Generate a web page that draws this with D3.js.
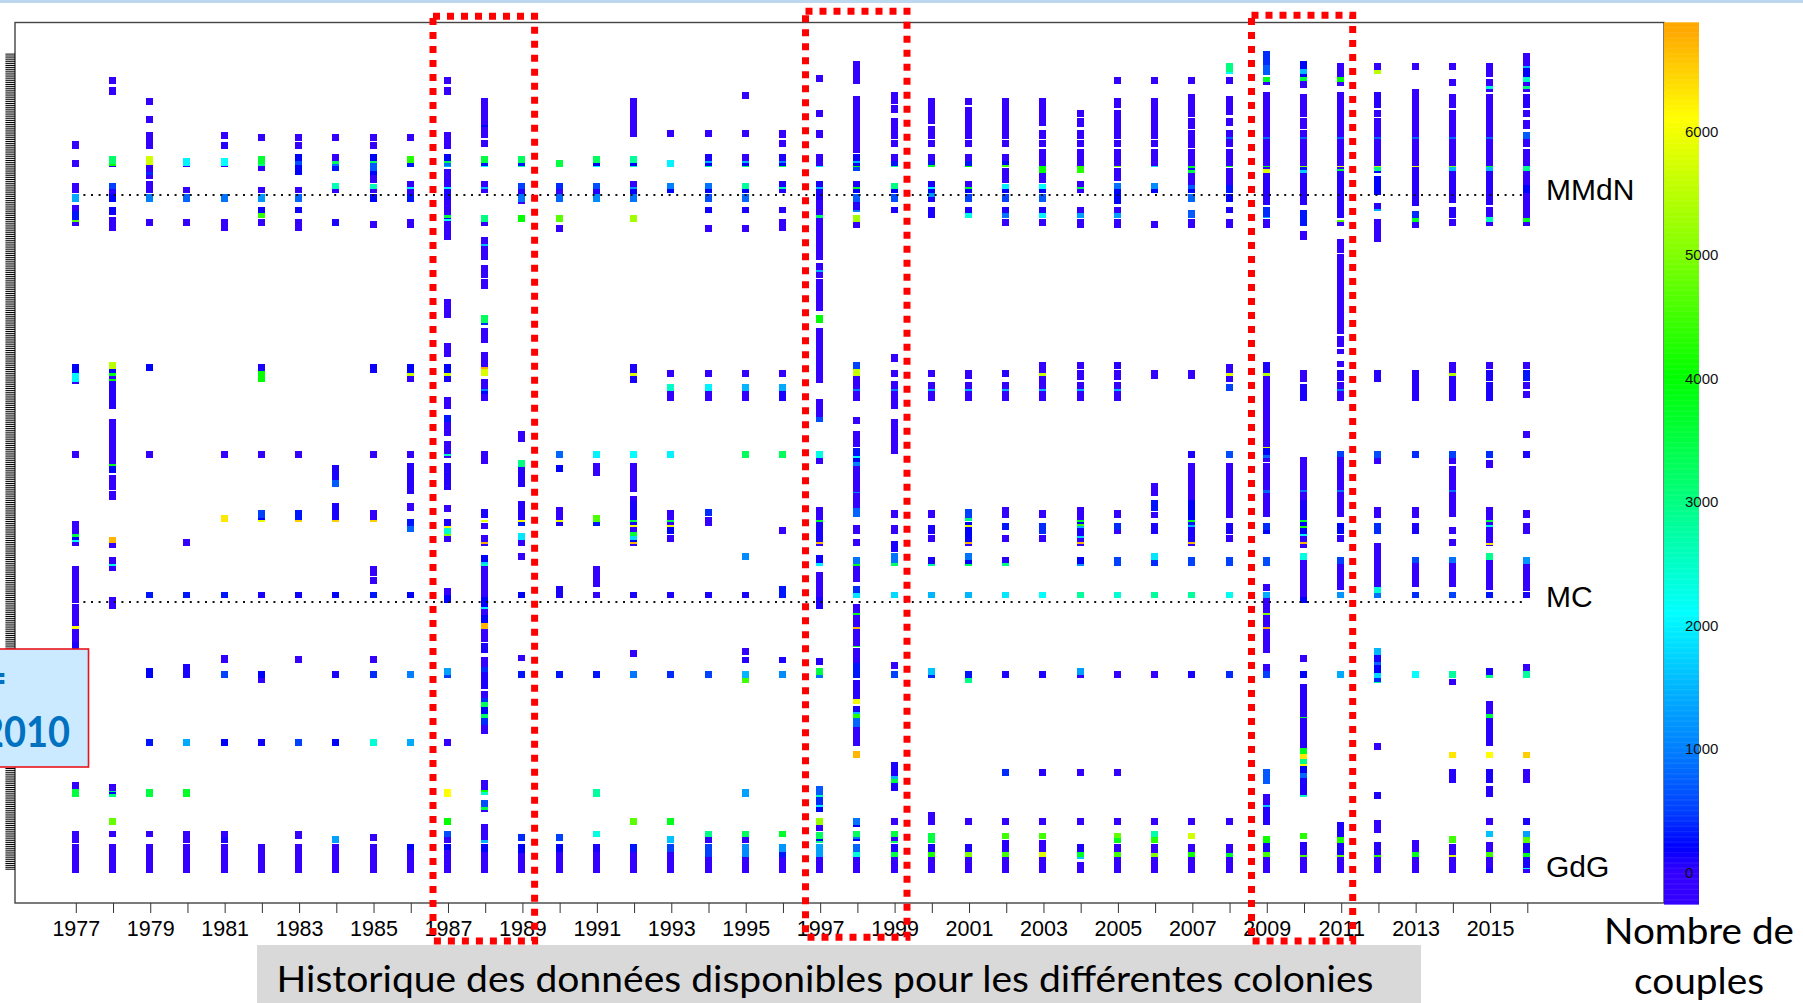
<!DOCTYPE html>
<html>
<head>
<meta charset="utf-8">
<style>
	html, body { margin: 0; padding: 0; background: #fff; overflow: hidden; }
	svg { display: block; }
	text { font-family: "Liberation Sans", Arial, sans-serif; }
	.calibri { font-family: Lato, "Noto Sans", sans-serif; }
</style>
<script src="https://cdn.jsdelivr.net/npm/d3@7"></script>
</head>
<body>
<svg id="chart" width="1803" height="1003"></svg>
<script>
"use strict";

// each run is [first colony row, last colony row, number of couples]
var runs1977 = [[70.5,74.5,0],[80,83.5,0],[91.5,96.5,0],[97,101,1400],[102.5,105.5,0],[105.5,110,300],[110,111,4700],[111,113,0],[182,186.5,200],[186.5,191,2050],[191,192,0],[225.5,229,0],[260.5,267,0],[267,268.5,3500],[268.5,270,200],[270,271,2100],[271,273,0],[283,301.5,0],[302,313,0],[313,314.5,6100],[314.5,321,0],[321,326,100],[391,394.5,0],[394.7,398.7,3500],[415.5,421.5,0],[422,436.7,0]];
var runs1978 = [[38.5,42,0],[43.5,47.5,0],[78,82,3200],[82,83,4000],[83,83.7,0],[91.5,94.5,500],[94.5,97,50],[97,101,200],[103.5,107.5,150],[108.5,115.5,0],[181,184.5,5500],[184.5,186.5,200],[186.5,188,3800],[188,189.5,0],[189.5,190.5,4000],[190.5,204.5,50],[209.5,232,0],[232,233,3800],[233,236.5,200],[237.5,245,0],[245.5,250,0],[268.7,271.7,6700],[271.7,274,0],[278.7,282,0],[282,283,2300],[283,285.3,0],[298.7,304.5,0],[392,395.3,0],[395.3,396.2,3000],[396.2,397,200],[397,398.7,3000],[409,412.3,4800],[415.3,418.7,0],[422,436.7,0]];
var runs1979 = [[49,52.5,0],[58,61.3,0],[66,74.7,0],[78,82.7,5700],[82.7,85.8,0],[85.8,87.5,400],[87.5,89.5,0],[90.5,96.7,0],[97,100.8,1000],[109.5,113,0],[182,185.3,200],[225.7,229,0],[295.8,299.2,300],[334,338.8,200],[369.5,373,300],[394.7,398.3,3500],[415.3,418.7,0],[422,436.7,0]];
var runs1980 = [[79,82.8,2000],[82.8,83.7,0],[93.3,96.7,0],[97,100.8,800],[109.5,113,0],[269.5,272.8,0],[295.8,299.2,300],[332.2,338.8,100],[369.5,373,1400],[394.7,398.3,3700],[415.3,421.3,0],[422,436.7,0]];
var runs1981 = [[66,69.3,0],[71,74.7,50],[79,82.8,2100],[82.8,83.7,0],[97,100.8,900],[109.5,115.7,0],[225.7,229,0],[257.5,260.8,6300],[295.8,299.2,300],[327.3,331.7,0],[335.5,338.8,500],[369.5,373,200],[415.3,418.7,0],[418.7,421.3,100],[422,436.7,0]];
var runs1982 = [[67,70.3,0],[78,82,3600],[82,83,3000],[83,85.7,0],[93.3,96.7,0],[97,100.8,1200],[103.3,106.7,150],[106.7,109.2,4400],[109.5,113,0],[182,185.7,100],[185.7,190.8,4000],[225.7,229,0],[255,259.2,500],[259.2,260,200],[260,260.8,5900],[295.8,299.2,100],[335.5,338.8,200],[338.8,341.7,0],[369.5,373,150],[422,436.7,0]];
var runs1983 = [[67,70.3,0],[71,74.7,0],[77,80.3,200],[80.3,82.5,600],[82.5,87.5,200],[93.3,96.7,0],[97,100.8,800],[103.3,106.7,150],[109.5,115.7,0],[225.7,229,0],[255,260,300],[260,260.8,6500],[295.8,299.2,150],[328.2,331.7,0],[369.5,373,500],[415.3,419.7,0],[422,436.7,0]];
var runs1984 = [[67,70.3,0],[77,80.3,0],[80.3,82,3300],[82,82.8,900],[82.8,85.7,300],[91.3,94.7,2600],[94.7,96.7,0],[109.5,113,100],[232.7,240,100],[240,243.3,700],[251.3,260,100],[260,260.8,6500],[295.8,299.2,200],[335.5,338.8,100],[369.5,373,200],[418,421.7,1300],[422,436.7,0]];
var runs1985 = [[67,70.3,0],[71,74.7,0],[77,80.3,200],[80.3,81.3,3300],[81.3,85.7,700],[85.7,87.5,200],[87.5,91.7,0],[92,94.7,2600],[94.7,96.7,0],[97,100.8,200],[110.5,114,0],[182,186.3,150],[225.7,229,0],[255,260,0],[260,260.8,6500],[283,288,0],[288.7,292,0],[295.8,299.2,300],[328.2,331.7,0],[335.5,338.8,400],[369.5,373,2400],[417.2,420.5,0],[422,436.7,0]];
var runs1986 = [[67,70.3,0],[78,81.3,4300],[81.3,83.7,300],[90.5,93.7,0],[93.7,94.7,2000],[94.7,97,0],[97,100.8,300],[109.5,114,0],[182,186.7,200],[186.7,187.8,5600],[187.8,190.8,0],[225.7,229,0],[231.7,247,50],[251.3,255.7,0],[259.5,263,300],[263,265.8,800],[295.8,299.2,200],[335.5,338.8,1000],[369.5,373,1400],[422,425,200],[425,436.7,0]];
var runs1987 = [[38.7,42,0],[43.7,47.3,0],[66,74.7,0],[77,80.3,200],[80.3,81.3,3500],[81.3,82.8,900],[82.8,83.7,1500],[84.5,93.7,0],[93.7,94.7,2000],[94.7,100,100],[100,107.5,0],[107.5,108.8,3500],[108.8,109.7,200],[109.7,110.7,2100],[110.7,120,0],[149.7,159.2,0],[171.3,178.3,0],[182,186.3,200],[186.3,187.8,5700],[187.8,190.8,100],[198.3,204.7,0],[207.7,210.8,300],[210.8,218,0],[220.3,227,0],[227,228,2600],[228,229,0],[231.7,245,50],[252.3,255.8,0],[259.5,263,100],[263,263.8,6100],[263.8,267.2,2500],[267.2,268,5000],[268,271.2,0],[294,297.5,0],[297.5,301.3,200],[334,337.5,1300],[337.5,338.8,500],[369.5,373,0],[394.7,398.3,6100],[409.2,412.3,4000],[415.3,418.7,600],[418.7,421.3,0],[422,425,200],[425,436.7,0]];
var runs1988 = [[48.8,62.5,0],[62.5,63.3,200],[63.3,69.2,0],[70,73.7,0],[78,81.3,3500],[81.3,82.8,300],[82.8,83.7,2100],[90.5,93.7,0],[93.7,94.7,1500],[94.7,96.7,0],[107.5,111,3000],[111,113,0],[118.5,122,0],[122,123,1500],[123,130,0],[132.5,138.8,0],[139.7,144.3,0],[157.7,161.3,3300],[161.3,162.3,400],[164,171.7,0],[176,183.3,0],[183.3,184.3,6800],[184.3,187.8,5800],[189.5,194.7,0],[194.7,195.5,1000],[195.5,197.2,200],[197.2,200.7,0],[225.7,232.2,0],[254.3,259.2,100],[260,260.8,5900],[261.3,264.7,0],[267.5,270.8,0],[270.8,272,6800],[272,272.8,0],[277.7,281.2,200],[281.2,282,1700],[282,283,2500],[283,298.3,0],[298.3,303.3,200],[303.3,304.5,2000],[304.5,307.5,0],[307.5,311.7,200],[311.7,314.5,6700],[314.5,320.8,0],[321.3,326.3,100],[328.3,333.3,0],[333.3,335.8,400],[335.8,344.7,100],[345.5,349.2,0],[349.2,350.8,400],[350.8,353.3,3300],[353.3,357,200],[357,358.8,3200],[358.8,362.5,400],[362.5,367,0],[390,395,0],[395,396.2,4000],[396.2,397.3,2500],[400,403.3,600],[403.3,405,3500],[405,406.2,0],[412,420,0],[420,421.3,1500],[422,425.8,200],[425.8,436.7,0]];
var runs1989 = [[78,81.3,3300],[81.3,82.8,300],[82.8,83.7,2700],[91.3,94.7,500],[94.7,97,50],[97,100.8,900],[100.8,101.8,0],[107.5,111,4000],[215.5,220.8,0],[230,233.3,3000],[233.3,243.3,50],[250.5,260,50],[260,260.8,6000],[260.8,263,300],[266.7,270,1900],[270,272.8,0],[276.7,280,0],[295.8,299.2,200],[327.3,330.7,0],[335.5,338.8,300],[417.2,420.5,400],[422,426.7,200],[426.7,436.7,0]];
var runs1990 = [[79.8,83.7,3500],[91.3,94.7,400],[94.7,97,0],[97,100.8,800],[107.5,111,4700],[112.3,115.8,0],[225.7,229,800],[232.7,236,200],[253.3,260,0],[260,260.8,5900],[260.8,262.8,100],[293,299.2,100],[335.5,338.8,300],[417.2,420.5,500],[422,425.8,200],[425.8,436.7,0]];
var runs1991 = [[78,81.3,3300],[81.3,82.8,200],[82.8,83.7,2000],[91.3,94.7,600],[94.7,97,50],[97,100.8,1100],[225.7,229,2000],[231.7,238,0],[257.5,260.8,4600],[260.8,262.8,300],[283,293.3,0],[295.8,299.2,0],[335.5,338.8,300],[394.7,398.3,2800],[415.3,418.7,2300],[422,426,100],[426,436.7,0]];
var runs1992 = [[48.8,68.3,0],[78,81.3,2800],[81.3,82.8,200],[82.8,83.7,2400],[90.5,93.7,0],[93.7,94.7,1200],[94.7,97,200],[97,100.8,900],[107.5,111,5300],[182,186.3,100],[186.3,187.8,5800],[187.8,191.7,100],[225.7,229,2100],[231.7,245.8,0],[248,250,0],[250,260,100],[260,260.8,3500],[260.8,262.5,100],[262.5,263.5,6100],[263.5,265.8,0],[265.8,268,3600],[268,270,1800],[270,270.8,200],[270.8,272.2,6700],[272.2,272.8,0],[295.8,299.2,100],[325,328.7,0],[335.5,338.8,900],[409.2,412.3,4700],[422,426,300],[426,436.7,0]];
var runs1993 = [[65,68.3,0],[80,83.7,2000],[91.3,94.7,1000],[94.7,96.7,200],[185,188.7,0],[192,195.5,2500],[195.5,200.7,0],[225.7,229,2000],[255,260,0],[260,260.8,3500],[260.8,262.5,0],[262.5,263.5,6000],[263.5,267.2,200],[267.5,270.8,0],[295.8,299.2,100],[335.5,338.8,400],[409.2,412.3,3800],[418,421.7,1600],[422,425.8,500],[425.8,436.7,0]];
var runs1994 = [[65,68.3,0],[77,80.3,100],[80.3,81.3,1500],[81.3,82.8,200],[82.8,83.7,2800],[91.3,94.7,900],[94.7,96.7,200],[97,100.8,600],[103.3,106.7,150],[112.3,115.8,0],[185,188.7,0],[192,195.5,2000],[195.5,200.7,0],[254.3,257.8,400],[258.7,262.8,0],[295.8,299.2,100],[335.5,338.8,500],[415.3,418.7,3000],[418.7,421.7,0],[422,428.7,500],[428.7,436.7,0]];
var runs1995 = [[46,49.5,0],[65,68.3,0],[77,80.3,0],[80.3,81.3,1500],[81.3,82.8,200],[82.8,83.7,3000],[91.3,94.7,2800],[94.7,96.7,200],[97,100.8,800],[103.3,106.7,100],[112.3,115.8,0],[185,188.7,0],[192,195.5,1500],[195.5,200.7,0],[225.7,229,3300],[276.7,280,1100],[295.8,299.2,100],[324.2,327.7,0],[328.3,331.7,50],[335.5,338.8,1500],[338.8,341.7,4500],[394.7,398.3,1300],[415.3,418.7,3300],[418.7,421.7,0],[422,428.3,1100],[428.3,436.7,0]];
var runs1996 = [[65,69.2,0],[70,73.7,0],[77,80.3,100],[80.3,81.3,1000],[81.3,82.8,200],[82.8,83.7,3300],[90.5,93.7,100],[93.7,94.7,2700],[94.7,96.7,50],[103.3,106.7,50],[109.5,115.7,0],[185,188.7,0],[192,195.5,1400],[195.5,200.7,100],[225.7,229,3300],[263.3,267.2,0],[293,299.2,300],[328.3,331.7,100],[335.5,338.8,1100],[415.3,418.7,3700],[422,425.8,1200],[425.8,428.7,300],[428.7,436.7,0]];
var runs1997 = [[37.7,41.2,0],[55,58.5,0],[65,69.2,0],[77,82.8,0],[82.8,83.7,2000],[90.5,93.7,100],[93.7,94.7,1500],[94.7,100,100],[100,107.5,0],[107.5,108.8,3200],[108.8,130,0],[131.7,135,0],[135,136,1500],[136,138.8,0],[139.7,155.3,0],[157.7,161.3,4000],[164,191.7,0],[199.3,208.7,0],[208.7,210.8,600],[225.7,229,2300],[229,232.2,0],[253.3,260,0],[260,260.8,3700],[260.8,270.8,100],[270.8,272,6700],[272,272.8,0],[277.7,281.7,150],[281.7,283,2000],[285.8,298.3,0],[298.3,304.5,100],[329.2,332.5,50],[334,337.5,3500],[337.5,338.8,900],[392.8,397.5,700],[397.5,398.3,2600],[398.3,402.5,400],[402.5,403.3,2000],[403.3,406.2,200],[409.2,412.3,5200],[412.3,415.3,0],[415.8,419.3,3300],[419.3,420.3,200],[420.3,421.3,3000],[422,428.7,1300],[428.7,436.7,0]];
var runs1998 = [[30.7,42,0],[47.8,76.7,0],[77,80.3,150],[80.3,81.3,1500],[81.3,82.8,200],[82.8,83.7,4000],[83.7,85.7,500],[90.5,93.7,100],[93.7,94.7,3700],[94.7,96.7,200],[97,100.8,700],[100.8,105,50],[105,106,1000],[107.5,111,5300],[111,114,0],[181,184.3,500],[184.3,187.8,5600],[187.8,194.7,0],[194.7,195.5,1000],[195.5,200.7,0],[208.3,212,0],[215.5,223.3,0],[224.2,228,300],[228,229,2100],[229,230.8,200],[230.8,233,1000],[233,245.8,0],[245.8,246.7,1000],[246.7,254.2,0],[254.2,258.7,800],[262.5,267.2,0],[269.5,272.8,0],[278.7,282,900],[282,283,3800],[283,290.8,0],[293,296.3,400],[296.3,299.2,1900],[302,306.7,0],[306.7,307.5,3800],[307.5,313.3,0],[313.3,314.5,6700],[314.5,322.8,0],[322.8,323.7,3800],[324.2,331.7,0],[331.7,338.8,300],[340.2,349.3,50],[349.3,352.2,6000],[352.8,355.8,100],[355.8,357,1500],[357,359.2,4300],[359.2,363.3,800],[363.3,373,0],[375.5,379,6700],[409.2,412.5,900],[412.5,413.3,200],[415.3,418.7,3300],[418.7,419.7,900],[419.7,420.5,200],[422,425.8,800],[425.8,428.7,2400],[428.7,436.7,0]];
var runs1999 = [[46,52,0],[52.7,56.7,0],[58.8,69.3,0],[70,73.7,0],[77,80.3,0],[80.3,82.8,300],[82.8,83.7,2900],[91.3,94.7,3000],[94.7,96.7,200],[97,100.8,600],[103.3,106.7,100],[177.2,180.8,0],[185,188.7,0],[190.3,194.7,0],[194.7,195.5,1000],[195.5,204.7,0],[209.3,227,0],[255,259.2,0],[262.5,267.2,0],[270.7,276.2,100],[276.7,281.7,900],[281.7,283,3200],[295.8,299.2,1800],[331.2,334.5,0],[335.5,338.8,500],[380.8,388,100],[388,389.7,1500],[389.7,391.3,3500],[391.3,395.3,100],[409.2,412.3,0],[415.3,418.7,3500],[418.7,420.5,0],[420.5,421.7,3300],[422,425.8,100],[425.8,428.7,3500],[428.7,436.7,0]];
var runs2000 = [[48.8,62.2,0],[63.2,69.3,0],[70,73.7,0],[77,80.3,0],[80.3,82.5,300],[82.5,83.7,3700],[90.5,93.7,100],[93.7,94.7,2000],[94.7,96.7,200],[96.7,98.3,1200],[98.3,100.8,100],[103.3,109,100],[185,188.7,0],[191.2,194.7,0],[194.7,195.5,1500],[195.5,200.7,0],[255,258.8,0],[262.5,267.2,100],[267.5,270.8,0],[278.7,282,100],[282,283,2800],[295.8,299.2,1500],[334,337.5,1600],[337.5,338.8,400],[406.2,412.3,0],[416.3,421.3,3500],[422,425.8,100],[425.8,428.7,4200],[428.7,436.7,0]];
var runs2001 = [[48.8,52.3,0],[53.7,69.3,0],[70,73.7,0],[77,80.3,0],[80.3,82.8,300],[82.8,83.7,4000],[90.5,93.7,0],[93.7,94.7,3700],[94.7,96.7,200],[97,100.8,500],[103.3,106.7,100],[106.7,109,2300],[185,189.7,0],[191.2,194.7,0],[194.7,195.5,1500],[195.5,200.7,0],[254.3,258.8,500],[258.8,260.5,3000],[260.8,262.5,200],[262.5,263.5,6000],[263.5,270.8,200],[270.8,272,6700],[272,272.8,0],[276.7,280,900],[280,282,200],[282,283,3300],[295.8,299.2,1500],[335.5,338.8,300],[338.8,341.7,3000],[409.2,412.3,0],[422,425.8,100],[425.8,428.7,5000],[428.7,436.7,0]];
var runs2002 = [[48.8,69.3,0],[70,73.7,0],[77,80.3,0],[80.3,82.5,200],[82.5,83.7,4500],[84.2,91.7,0],[92,94.7,2000],[94.7,96.7,200],[97,100.8,500],[103.3,106.7,100],[106.7,109,900],[109.5,113,0],[185,188.7,50],[191.2,194.7,0],[194.7,195.5,1500],[195.5,200.7,0],[253.3,258.8,0],[261.3,265,300],[267.5,270.8,0],[278.7,281.7,50],[281.7,283,3000],[295.8,299.2,1900],[335.5,338.8,100],[384.7,388,400],[409.2,412.3,0],[416.3,419.7,4500],[420,425.8,50],[425.8,428.7,4500],[428.7,436.7,0]];
var runs2003 = [[48.8,63.2,0],[65,69.3,0],[70,73.7,0],[74.3,82.8,0],[82.8,86.7,4000],[86.7,91.7,0],[92,94.7,2100],[94.7,96.7,200],[97,100.8,700],[103.3,106.7,100],[106.7,109,2000],[109.5,113,0],[181,186.3,0],[186.3,187.8,5600],[187.8,194.7,0],[194.7,195.5,1500],[195.5,200.7,0],[255,258.8,0],[261.3,267.2,400],[267.5,270.8,0],[295.8,299.2,2100],[335.5,338.8,100],[384.7,388,50],[409.2,412.3,0],[416.3,419.7,4500],[420,425.8,0],[425.8,428.7,5800],[428.7,436.7,0]];
var runs2004 = [[55,58.5,0],[59.2,63.3,0],[65,69.3,0],[70,73.7,0],[74.3,82.8,0],[82.8,86.7,4300],[90.5,93.7,0],[93.7,94.7,3500],[94.7,96.7,0],[103.3,106.7,0],[106.7,109,1300],[109.5,114,0],[181,184.3,0],[185,190,0],[191.2,194.7,0],[194.7,195.5,1500],[195.5,200.7,0],[253.3,260,0],[260,261,3800],[261,262,200],[262,263,4500],[263,264,1500],[264,268,100],[268,269,1800],[269,270.8,0],[270.8,272,6700],[272,272.8,0],[278.7,282,200],[282,283,1200],[295.8,299.2,2800],[334,337.5,1300],[337.5,338.8,0],[384.7,388,0],[409.2,412.3,0],[422,425.8,100],[425.8,428.7,3700],[428.7,429.7,1700],[431,436.7,0]];
var runs2005 = [[38.7,42,0],[48.8,54.2,0],[55,69.3,0],[70,73.7,0],[74.3,82.8,0],[82.8,83.7,5000],[84.2,90.5,0],[91.3,94.7,900],[94.7,97,200],[97,101.8,200],[103.3,106.7,0],[106.7,109,1300],[109.5,114,0],[181,184.3,50],[185,190,0],[191.2,194.7,0],[194.7,195.5,1500],[195.5,200.7,0],[255,258.8,0],[261.3,265,400],[265,267.2,0],[278.7,283,500],[295.8,299.2,2400],[335.5,338.8,0],[384.7,388,0],[409.2,412.3,0],[416.3,419,4800],[419,421.3,3800],[422,425.8,0],[425.8,428.7,4500],[428.7,436.7,0]];
var runs2006 = [[38.7,42,0],[48.8,69.3,0],[70,73.7,0],[74.3,82.8,0],[82.8,83.7,1800],[91.3,94.7,1100],[94.7,96.7,200],[110.5,114,0],[185,189.7,0],[241.7,248,0],[250,255.3,300],[255.8,258.8,0],[261.3,267.2,100],[276.7,280,1900],[280,283,400],[295.8,299.2,2800],[335.5,338.8,0],[409.2,412.3,0],[415.3,418.7,2700],[418.7,421.3,4300],[422,426.7,0],[426.7,428.7,5000],[428.7,436.7,0]];
var runs2007 = [[38.7,42,0],[47,58.3,0],[58.8,64.3,0],[65,74,0],[74.3,82.8,0],[82.8,84.2,3800],[84.2,85,300],[85,86.7,3500],[86.7,92.5,0],[92.5,94.7,700],[94.7,96.7,200],[97,100.8,800],[105,108.8,700],[109.5,114,0],[185,189.7,0],[225.7,229,100],[231.7,250,0],[250,260,200],[260,261,3800],[261,262.5,300],[262.5,263.5,1500],[263.5,270.8,100],[270.8,272,6700],[272,272.8,0],[278.7,283,500],[295.8,299.2,2800],[335.5,338.8,100],[409.2,412.3,0],[416.3,419.7,5700],[422,425.8,0],[425.8,428.7,4100],[428.7,436.7,0]];
var runs2008 = [[31.7,36,3000],[36,37,2100],[38.7,42,0],[47.8,57.5,0],[58.8,63.2,0],[65,68.7,0],[68.7,69.5,800],[69.5,73.7,0],[74.3,82.8,0],[82.8,83.7,3800],[84.2,92.5,0],[92.5,96.7,300],[97,101,200],[103.3,106.7,100],[109.5,114,0],[182,186.3,0],[186.3,187.8,5800],[187.8,191.2,0],[192,195.5,500],[225.7,229,600],[231.7,250,0],[250,258.8,0],[261.3,267.2,100],[267.5,270.8,0],[278.7,283,500],[295.8,299.2,2200],[335.5,338.8,400],[409.2,412.3,0],[422,426.7,0],[426.7,428.7,3700],[428.7,436.7,0]];
var runs2009 = [[25.5,32.5,400],[32.5,37.5,700],[38.3,41.2,3700],[41.2,42.3,0],[46,68.7,0],[68.7,69.5,800],[69.5,82.8,0],[82.8,83.7,3800],[83.7,84.7,0],[84.7,86.3,5800],[86.7,102.5,50],[103.3,108.3,400],[108.3,109.2,1400],[109.5,114,0],[181,186.3,100],[186.3,187.8,5400],[187.8,223.3,0],[223.3,224.2,5800],[224.2,227.5,200],[227.5,229,800],[229,230.8,0],[231.7,245,0],[245,246.7,800],[246.7,258.7,0],[261.3,265,400],[265,267.2,200],[278.7,283,600],[292,295.3,0],[295.8,299.2,1400],[299.2,306.7,0],[306.7,307.5,5000],[307.5,313.3,0],[313.3,314.3,6800],[314.3,326.7,0],[332.2,335.5,0],[335.5,338.8,500],[384.7,392,700],[397.2,402.5,0],[402.5,403.5,1700],[403.5,412.5,50],[418,421.3,4100],[421.7,425.8,100],[425.8,428.7,4500],[428.7,436.7,0]];
var runs2010 = [[30.7,34.7,200],[34.7,37,1500],[37,38.7,200],[38.7,40.5,3500],[40.5,44,0],[47,58.3,0],[58.8,64.3,0],[65,68.7,0],[68.7,69.5,800],[69.5,82.8,0],[82.8,83.7,5000],[83.7,85,300],[85,86.3,1700],[86.7,102.5,50],[105,113,300],[115.5,120,0],[185,190.8,0],[192,200.7,100],[228.3,245,0],[245,246,900],[246,250,0],[250,260,100],[260,261,3700],[261,262.8,200],[262.8,263.8,4200],[263.8,267,200],[267,268,2000],[268,271,0],[271,272.2,6700],[272.2,273.8,0],[276.7,280,2300],[280,298.3,0],[298.3,301.3,200],[327.5,330.8,0],[335.5,338.8,200],[342.2,358.3,50],[358.3,359.2,3800],[359.2,374.2,50],[374.2,377,3800],[377,379.7,6300],[379.7,382.2,3000],[382.2,383,6000],[383,386.7,200],[386.7,389.2,800],[389.2,397.5,100],[397.5,398.3,2500],[416.3,419.7,4300],[421,427.5,50],[427.5,428.7,4500],[428.7,436.7,0]];
var runs2011 = [[31.7,38.3,0],[38.3,41.2,4000],[41.2,43,0],[46,68.7,0],[68.7,69.5,800],[69.5,82.8,0],[82.8,83.7,5800],[83.7,84.7,0],[84.7,85.5,3500],[85.5,109.2,50],[110,111,4700],[111,113,0],[119.5,126.7,0],[127,167,0],[167.8,173.7,0],[174.5,177.2,0],[180.3,183.3,0],[185,190.5,50],[191.2,194.7,0],[194.7,195.5,1000],[195.5,200.7,0],[225.7,228.7,500],[228.7,245,0],[245,246,900],[246,258.7,0],[261.3,267,200],[267.5,270.8,0],[278.7,282,500],[282,295,0],[295.8,299.2,1200],[335.5,338.8,1400],[410.8,418.3,100],[418.3,421.3,4200],[421.3,427.5,100],[427.5,428.7,4700],[428.7,436.7,0]];
var runs2012 = [[31.7,35,0],[35,37,5500],[46,54.2,50],[55,58.3,0],[58.8,68.7,0],[68.7,69.5,800],[69.5,82.8,0],[82.8,83.7,5600],[83.7,85.7,3000],[85.7,86.7,200],[87.8,97.5,200],[101.3,104.7,50],[104.7,105.7,1400],[109.5,120.8,0],[185,190.8,50],[225.7,228.8,600],[228.8,232.2,0],[253.3,258.8,0],[261.3,267.2,400],[271.7,293.7,0],[293.7,296.3,2400],[296.3,299.2,900],[324.2,327.7,1500],[327.7,330.8,100],[330.8,332.5,800],[332.5,336.7,200],[336.7,338.8,1800],[338.8,340.8,400],[340.8,341.7,2800],[371.7,375,0],[395.8,399.5,100],[410,416.7,0],[421,427.5,50],[427.5,428.7,4300],[428.7,436.7,0]];
var runs2013 = [[31.7,35,0],[44.5,68.7,0],[68.7,69.5,800],[69.5,82.8,0],[82.8,83.7,5900],[83.7,103,50],[105.3,109.2,400],[109.2,111,3700],[111,114,0],[185,190.8,50],[191.2,200.7,50],[225.7,229,400],[253.3,258.8,0],[261.3,267.2,100],[278.7,281.7,600],[281.7,293.3,0],[295.8,299.2,400],[335.5,338.8,2100],[420,425.8,0],[425.8,428.7,3800],[428.7,436.7,0]];
var runs2014 = [[31.7,35,0],[39.7,43.2,0],[47,54.2,0],[55,68.7,0],[68.7,69.5,800],[69.5,82.8,0],[82.8,83.7,5000],[83.7,85.7,1500],[85.7,101.7,50],[103.3,109.2,50],[109.5,113,0],[181,186.3,0],[186.3,187.8,5400],[187.8,200.7,50],[225.7,229,500],[229,232.2,0],[233,245,0],[245,246,900],[246,258.7,0],[263.3,267.2,0],[269.5,272.8,0],[278.7,281.7,900],[281.7,293.3,0],[295.8,299.2,500],[335.5,338.8,2800],[339.3,342.7,0],[375.8,378.8,6300],[384.7,391.3,50],[418,421.3,4500],[422,427.5,0],[427.5,428.7,5800],[428.7,436.7,0]];
var runs2015 = [[31.7,38.3,0],[39.7,43,0],[43,44.7,2400],[44.7,45.8,0],[47,68.7,0],[68.7,69.5,800],[69.5,82.8,0],[82.8,83.7,3800],[83.7,85.5,1500],[85.5,102.5,50],[103.3,108.3,0],[108.3,111,2600],[111,113,0],[181,184.3,0],[185,190.5,100],[191.2,200.7,100],[225.7,229,400],[230,234.2,0],[253.3,260,0],[260,261,3500],[261,262.5,0],[262.5,263.3,2300],[263.3,271.3,0],[271.3,272.5,6300],[272.5,272.8,0],[276.7,280,2900],[280,295,0],[295.8,299.2,300],[334.2,337.5,100],[337.5,338.8,3000],[350.3,357,0],[357,358.8,3500],[358.8,373,50],[375.8,378.8,6100],[384.7,391.3,100],[392.8,398.3,50],[409.2,412.3,0],[415.3,418.7,1600],[421,425.8,0],[425.8,428.7,4500],[428.7,434,0],[434,436.7,100]];
var runs2016 = [[26.3,32.8,0],[32.8,33.8,1500],[33.8,38.3,200],[38.3,41,2500],[41,43,0],[43,44.7,3000],[44.7,45.8,0],[47,53.8,50],[55,58.3,0],[60,64.3,0],[66,69.3,700],[69.3,73.7,0],[74.3,82.8,0],[82.8,85.5,2900],[85.5,92.5,0],[92.5,96.7,200],[96.7,109.2,0],[109.2,110.8,3800],[110.8,113,0],[181,184.3,0],[185,190.5,300],[191.2,194.5,0],[195.5,198.8,0],[215.7,219,0],[225.7,229,100],[255,258.8,0],[261.3,267.2,0],[278.7,282,1200],[282,295.3,0],[295.8,299.2,100],[332.2,335.5,0],[335.5,338.8,2800],[375.8,378.8,6500],[384.7,391.3,0],[409.2,412.3,100],[415.3,418.7,1300],[418.7,421.3,4700],[421.3,426.7,100],[426.7,428.7,3800],[428.7,433.8,100],[433.8,434.7,2000],[434.7,436.7,0]];

var years = d3.range(1977, 2017);
var allRuns = [runs1977, runs1978, runs1979, runs1980, runs1981, runs1982, runs1983, runs1984, runs1985, runs1986,
	runs1987, runs1988, runs1989, runs1990, runs1991, runs1992, runs1993, runs1994, runs1995, runs1996,
	runs1997, runs1998, runs1999, runs2000, runs2001, runs2002, runs2003, runs2004, runs2005, runs2006,
	runs2007, runs2008, runs2009, runs2010, runs2011, runs2012, runs2013, runs2014, runs2015, runs2016];

var colourValues = [0, 200, 500, 1000, 1400, 2100, 3000, 4000, 5000, 6100, 6800];
var colourStops = ["#3300ff", "#0000ff", "#0040ff", "#0080ff", "#00aaff", "#00ffff", "#00ff80", "#00ff00", "#80ff00", "#ffff00", "#ffaa00"];
var legendTicks = [0, 1000, 2000, 3000, 4000, 5000, 6000];

var referenceRows = [{name: "MMdN", row: 97.5, base: 200}, {name: "MC", row: 301, base: 607}, {name: "GdG", row: null, base: 877}];

var svg = d3.select("#chart");

var x = d3.scaleLinear().domain([1977, 2016]).range([75.8, 1527.3]);
var y = d3.scaleLinear().domain([11.25, 451.5]).range([22.5, 903]);
var colour = d3.scaleLinear().domain(colourValues).range(colourStops).clamp(true);
var legendY = d3.scaleLinear().domain([0, 6000]).range([872, 131]);

// strip of the slide above the plot
svg.append("rect").attr("x", 0).attr("y", 0).attr("width", 1803).attr("height", 3).attr("fill", "#bdd7ee");

// plot frame
svg.append("rect")
	.attr("x", 15).attr("y", y.range()[0])
	.attr("width", 1649).attr("height", y.range()[1] - y.range()[0])
	.attr("fill", "none").attr("stroke", "#444").attr("stroke-width", 1.4);

// colony ticks on the left, one per colony
var colonyRows = d3.range(27.05, 435, 0.95);
svg.append("g").selectAll("line")
	.data(colonyRows)
	.enter().append("line")
		.attr("x1", 5.4).attr("x2", 15)
		.attr("y1", function(d) { return y(d); })
		.attr("y2", function(d) { return y(d); })
		.attr("stroke", "#000").attr("stroke-width", 1);

// the cells, one column per year
var column = svg.append("g").selectAll("g")
	.data(allRuns)
	.enter().append("g")
		.attr("transform", function(d, i) { return "translate(" + (x(years[i]) - 0.5) + ",0)"; });
column.selectAll("rect")
	.data(function(d) { return d; })
	.enter().append("rect")
		.attr("x", -3.5).attr("width", 7)
		.attr("y", function(d) { return y(d[0]); })
		.attr("height", function(d) { return y(d[1]) - y(d[0]); })
		.attr("shape-rendering", "crispEdges")
		.attr("fill", function(d) { return colour(d[2]); });

// dotted lines through the reference colonies
svg.append("g").selectAll("line")
	.data(referenceRows.filter(function(d) { return d.row !== null; }))
	.enter().append("line")
		.attr("x1", 83.4).attr("x2", x(2016))
		.attr("y1", function(d) { return y(d.row); })
		.attr("y2", function(d) { return y(d.row); })
		.attr("stroke", "#111").attr("stroke-width", 2).attr("stroke-dasharray", "2,5.6");

svg.append("g").selectAll("text")
	.data(referenceRows)
	.enter().append("text")
		.attr("x", 1546).attr("y", function(d) { return d.base; })
		.attr("font-size", 30).attr("fill", "#000")
		.text(function(d) { return d.name; });

// year axis, every year ticked, every other year labelled
var xAxis = d3.axisBottom(x)
	.tickValues(years)
	.tickSize(10)
	.tickPadding(8)
	.tickFormat(function(d) { return (d - 1977) % 2 === 0 ? d : ""; });
var axisGroup = svg.append("g").attr("transform", "translate(0,903)").call(xAxis);
axisGroup.select(".domain").remove();
axisGroup.selectAll("line").attr("stroke", "#333");
axisGroup.selectAll("text").attr("font-size", 21.5).attr("font-family", "Liberation Sans").attr("fill", "#000");

// colour bar
svg.append("g").selectAll("rect")
	.data(d3.range(-260, 6880, 10))
	.enter().append("rect")
		.attr("x", 1664).attr("width", 35)
		.attr("y", function(d) { return legendY(d + 10); })
		.attr("height", legendY(0) - legendY(10) + 0.5)
		.attr("fill", function(d) { return colour(d); });
svg.append("g").selectAll("text")
	.data(legendTicks)
	.enter().append("text")
		.attr("x", 1685).attr("y", function(d) { return legendY(d) + 5.5; })
		.attr("font-size", 15).attr("fill", "#111")
		.text(function(d) { return d; });

svg.append("text").attr("class", "calibri")
	.attr("x", 1699).attr("y", 944).attr("text-anchor", "middle")
	.attr("font-size", 36).attr("textLength", 190).attr("lengthAdjust", "spacingAndGlyphs")
	.text("Nombre de");
svg.append("text").attr("class", "calibri")
	.attr("x", 1699).attr("y", 994).attr("text-anchor", "middle")
	.attr("font-size", 36).attr("textLength", 130).attr("lengthAdjust", "spacingAndGlyphs")
	.text("couples");

// caption
svg.append("rect").attr("x", 257).attr("y", 945).attr("width", 1164).attr("height", 58).attr("fill", "#d9d9d9");
svg.append("text").attr("class", "calibri")
	.attr("x", 276.5).attr("y", 992)
	.attr("font-size", 37).attr("fill", "#000")
	.attr("textLength", 1097).attr("lengthAdjust", "spacingAndGlyphs")
	.text("Historique des données disponibles pour les différentes colonies");

// callout, cut by the left edge of the slide
svg.append("rect")
	.attr("x", -10).attr("y", 649).attr("width", 98.5).attr("height", 118)
	.attr("fill", "#cceaff").attr("stroke", "#e8141c").attr("stroke-width", 1.6);
svg.append("text").attr("class", "calibri")
	.attr("x", 7).attr("y", 693).attr("text-anchor", "end")
	.attr("font-size", 42).attr("font-weight", "bold").attr("fill", "#0070c0")
	.text("=");
svg.append("text").attr("class", "calibri")
	.attr("x", -18).attr("y", 747)
	.attr("font-size", 42).attr("font-weight", "bold").attr("fill", "#0070c0")
	.attr("textLength", 88).attr("lengthAdjust", "spacingAndGlyphs")
	.text("2010");

// dashed red frames around the three highlighted periods
var frames = [{left: 433, right: 534.6, top: 16.3, bottom: 941}, {left: 805.5, right: 907, top: 11.3, bottom: 937.3}, {left: 1251.5, right: 1352.7, top: 15.3, bottom: 941}];
svg.append("g").selectAll("rect")
	.data(frames)
	.enter().append("rect")
		.attr("x", function(d) { return d.left; })
		.attr("y", function(d) { return d.top; })
		.attr("width", function(d) { return d.right - d.left; })
		.attr("height", function(d) { return d.bottom - d.top; })
		.attr("fill", "none").attr("stroke", "#ff0000").attr("stroke-width", 7).attr("stroke-dasharray", "7,7");
</script>
</body>
</html>
